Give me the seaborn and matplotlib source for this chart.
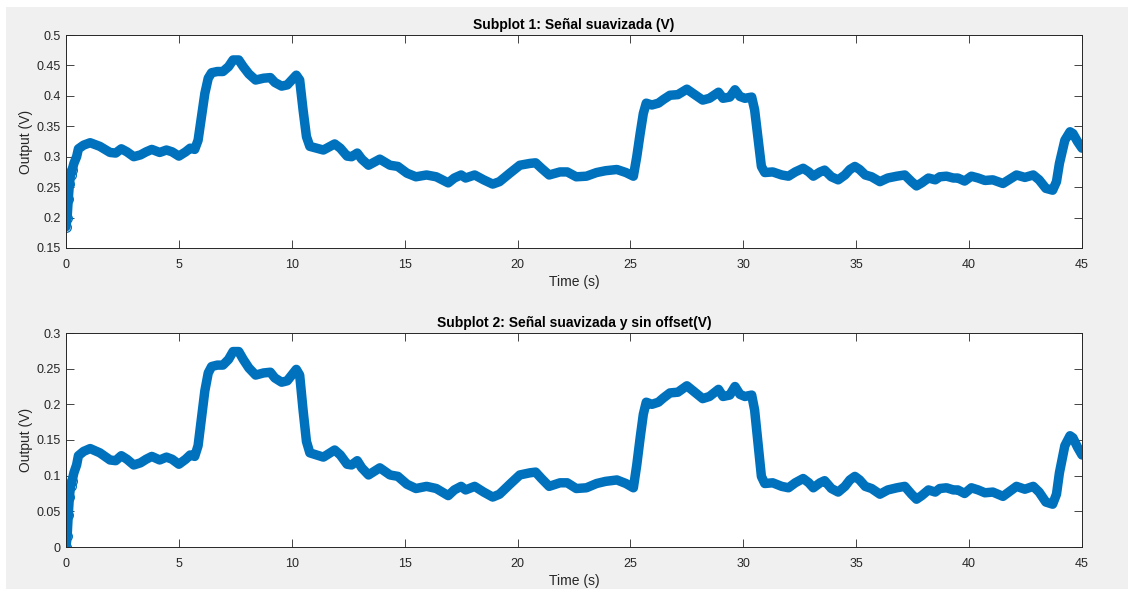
import numpy as np
import matplotlib
matplotlib.use("Agg")
import matplotlib.pyplot as plt
from matplotlib.patches import Rectangle
from matplotlib.ticker import FuncFormatter
import seaborn as sns

# ---- data ----
time_s = [0, 0.05, 0.1, 0.15, 0.2, 0.27, 0.35, 0.47, 0.55, 0.78,
          1.07, 1.5, 1.95, 2.2, 2.45, 2.7, 3.0, 3.3, 3.55, 3.8,
          4.15, 4.45, 4.7, 5.0, 5.3, 5.5, 5.7, 5.85, 6.0, 6.15,
          6.3, 6.45, 6.7, 6.95, 7.2, 7.4, 7.65, 7.85, 8.1, 8.4,
          8.75, 9.05, 9.25, 9.55, 9.8, 10.0, 10.2, 10.35, 10.5, 10.65,
          10.8, 11.1, 11.4, 11.7, 11.9, 12.15, 12.45, 12.65, 12.9, 13.1,
          13.4, 13.7, 13.9, 14.35, 14.7, 15.1, 15.5, 15.97, 16.4, 16.93,
          17.2, 17.5, 17.7, 18.1, 18.5, 18.9, 19.2, 19.66, 20.1, 20.55,
          20.8, 21.06, 21.4, 21.88, 22.2, 22.6, 23.05, 23.5, 23.9, 24.4,
          24.8, 25.13, 25.28, 25.43, 25.57, 25.7, 25.95, 26.24, 26.46, 26.75,
          27.1, 27.5, 27.85, 28.2, 28.5, 28.9, 29.1, 29.4, 29.63, 29.85,
          30.07, 30.37, 30.5, 30.66, 30.8, 30.95, 31.3, 31.7, 32.0, 32.3,
          32.65, 32.9, 33.1, 33.4, 33.6, 33.9, 34.2, 34.5, 34.72, 34.94,
          35.15, 35.4, 35.68, 36.05, 36.4, 36.8, 37.15, 37.45, 37.67, 37.9,
          38.2, 38.5, 38.7, 39.0, 39.3, 39.5, 39.8, 40.1, 40.4, 40.7,
          41.05, 41.5, 41.8, 42.1, 42.47, 42.84, 43.1, 43.4, 43.7, 43.87,
          44.0, 44.24, 44.47, 44.6, 44.8, 45.0]

smoothed_v = [0.185, 0.20, 0.23, 0.255, 0.27, 0.278, 0.289, 0.300, 0.313, 0.319,
              0.323, 0.317, 0.307, 0.306, 0.313, 0.308, 0.300, 0.303, 0.308, 0.312,
              0.307, 0.311, 0.308, 0.301, 0.308, 0.314, 0.312, 0.327, 0.366, 0.404,
              0.429, 0.438, 0.440, 0.440, 0.448, 0.459, 0.459, 0.448, 0.436, 0.426,
              0.429, 0.430, 0.422, 0.416, 0.418, 0.426, 0.434, 0.426, 0.377, 0.333,
              0.317, 0.314, 0.311, 0.317, 0.321, 0.314, 0.301, 0.300, 0.306, 0.296,
              0.286, 0.292, 0.296, 0.286, 0.284, 0.273, 0.267, 0.270, 0.267, 0.257,
              0.265, 0.270, 0.265, 0.270, 0.262, 0.255, 0.259, 0.273, 0.286, 0.289,
              0.290, 0.281, 0.270, 0.275, 0.275, 0.267, 0.268, 0.274, 0.277, 0.279,
              0.274, 0.268, 0.300, 0.338, 0.371, 0.388, 0.385, 0.388, 0.394, 0.401,
              0.402, 0.411, 0.402, 0.393, 0.396, 0.406, 0.396, 0.398, 0.410, 0.399,
              0.396, 0.398, 0.377, 0.327, 0.284, 0.274, 0.275, 0.270, 0.268, 0.275,
              0.281, 0.275, 0.268, 0.275, 0.278, 0.267, 0.262, 0.270, 0.279, 0.284,
              0.279, 0.270, 0.267, 0.259, 0.265, 0.268, 0.270, 0.259, 0.252, 0.257,
              0.265, 0.262, 0.267, 0.268, 0.265, 0.265, 0.260, 0.268, 0.265, 0.261,
              0.262, 0.256, 0.263, 0.270, 0.266, 0.270, 0.262, 0.248, 0.245, 0.259,
              0.289, 0.327, 0.341, 0.338, 0.325, 0.314]

offset_v = 0.185   # initial value removed in subplot 2

x_ticks = [0, 5, 10, 15, 20, 25, 30, 35, 40, 45]
y1_ticks = [0.15, 0.2, 0.25, 0.3, 0.35, 0.4, 0.45, 0.5]
y2_ticks = [0, 0.05, 0.1, 0.15, 0.2, 0.25, 0.3]

titles = ["Subplot 1: Señal suavizada (V)", "Subplot 2: Señal suavizada y sin offset(V)"]
x_label = "Time (s)"
y_label = "Output (V)"

# ---- styling ----
sns.set_style("ticks")
plt.rcParams['font.family'] = ['Liberation Sans', 'DejaVu Sans']
AX_COL = '#262626'
LINE_COL = '#0072BD'

W, H = 1129, 590
fig = plt.figure(figsize=(W / 100, H / 100), dpi=100)
fig.patch.set_facecolor('white')
fig.add_artist(Rectangle((6 / W, 1 - 589 / H), (1128 - 6) / W, (589 - 7) / H,
                         transform=fig.transFigure, facecolor='#f0f0f0',
                         edgecolor='none', zorder=-10))

ax1 = fig.add_axes([66 / W, 1 - 248 / H, 1016 / W, 213 / H])
ax2 = fig.add_axes([66 / W, 1 - 547 / H, 1016 / W, 214 / H])

t = np.array(time_s)
y1 = np.array(smoothed_v)
y2 = y1 - offset_v

fmt = FuncFormatter(lambda v, p: f"{v:g}")

for ax, y, yt, title in [(ax1, y1, y1_ticks, titles[0]), (ax2, y2, y2_ticks, titles[1])]:
    ax.set_facecolor('white')
    sns.lineplot(x=t, y=y, ax=ax, color=LINE_COL, linewidth=6.8,
                 marker='o', markersize=7, markerfacecolor='none',
                 markeredgecolor=LINE_COL, markeredgewidth=0.9,
                 markevery=list(range(0, 6)),
                 sort=False, estimator=None,
                 solid_capstyle='round', solid_joinstyle='round')
    ax.set_xlim(0, 45)
    ax.set_ylim(yt[0], yt[-1])
    ax.set_xticks(x_ticks)
    ax.set_yticks(yt)
    ax.xaxis.set_major_formatter(fmt)
    ax.yaxis.set_major_formatter(fmt)
    ax.tick_params(direction='in', top=True, right=True, length=6, width=0.6,
                   colors=AX_COL, labelsize=9)
    ax.tick_params(axis='x', pad=8)
    ax.tick_params(axis='y', pad=4)
    for s in ax.spines.values():
        s.set_color(AX_COL)
        s.set_linewidth(0.7)
        s.set_visible(True)
    ax.set_xlabel(x_label, fontsize=10, color=AX_COL, labelpad=3)
    ax.set_ylabel(y_label, fontsize=10, color=AX_COL, labelpad=2)
    ax.set_title(title, fontsize=10, fontweight='bold', color='black', pad=4)

fig.savefig("out.png", dpi=100, facecolor=fig.get_facecolor())
